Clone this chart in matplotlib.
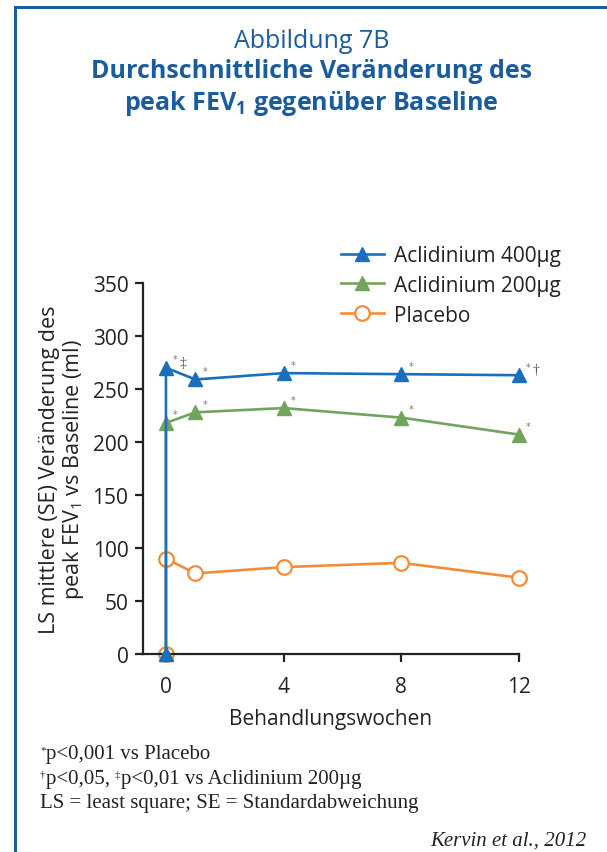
import matplotlib
matplotlib.use("Agg")
import matplotlib.pyplot as plt
from matplotlib.patches import Rectangle

plt.rcParams['font.family'] = ['Open Sans', 'DejaVu Sans']
plt.rcParams['mathtext.fontset'] = 'custom'
plt.rcParams['mathtext.rm'] = 'Open Sans'
plt.rcParams['mathtext.bf'] = 'Open Sans:bold'

weeks = [0, 0, 1, 4, 8, 12]
acl400 = [0, 270, 259, 265, 264, 263]
acl200 = [0, 218, 228, 232, 223, 207]
placebo = [0, 90, 76, 82, 86, 72]
series_names = ["Aclidinium 400µg", "Aclidinium 200µg", "Placebo"]
ann400 = ["", "*‡", "*", "*", "*", "*†"]
ann200 = ["", "*", "*", "*", "*", "*"]
xticks = [0, 4, 8, 12]
yticks = [0, 50, 100, 150, 200, 250, 300, 350]

c400 = '#1a6fba'
c200 = '#72a35f'
cpl = '#f28c38'
title_c = '#1a5c9c'
txt_c = '#222222'

fig = plt.figure(figsize=(6.07, 8.53), dpi=100)
fig.patches.append(Rectangle((15/607, -0.1), 1.2, 1 - 8/853 + 0.1, transform=fig.transFigure,
                             fill=False, edgecolor=title_c, linewidth=2.2, zorder=0))

ax = fig.add_axes([143/607, 1 - 655/853, (519 - 143)/607, (655 - 284)/853])

ax.plot(weeks, placebo, color=cpl, lw=1.9, marker='o', ms=10.5, mfc='white', mec=cpl, mew=1.6,
        label=series_names[2], zorder=2, clip_on=False)
ax.plot(weeks, acl200, color=c200, lw=1.9, marker='^', ms=10, mfc=c200, mec=c200,
        label=series_names[1], zorder=3, clip_on=False)
ax.plot(weeks, acl400, color=c400, lw=1.9, marker='^', ms=10, mfc=c400, mec=c400,
        label=series_names[0], zorder=4, clip_on=False)

for vals, anns in ((acl400, ann400), (acl200, ann200)):
    for x, y, t in zip(weeks, vals, anns):
        if t:
            ax.annotate(t[0], (x, y), xytext=(5, 4), textcoords='offset points', fontsize=7,
                        color='#777777', family=['DejaVu Sans'])
            if len(t) > 1:
                ax.annotate(t[1:], (x, y), xytext=(9.5, 1.5), textcoords='offset points', fontsize=10,
                            color='#555555', family=['Liberation Serif', 'DejaVu Serif'])

ax.set_xlim(-0.78, 12)
ax.set_ylim(0, 350)
ax.set_xticks(xticks)
ax.set_yticks(yticks)
ax.spines['top'].set_visible(False)
ax.spines['right'].set_visible(False)
for s in ['left', 'bottom']:
    ax.spines[s].set_linewidth(1.6)
    ax.spines[s].set_color(txt_c)
ax.tick_params(direction='out', length=6, width=1.6, colors=txt_c, labelsize=15)
ax.tick_params(axis='y', pad=4.5)
ax.tick_params(axis='x', pad=10)
ax.set_xlabel("Behandlungswochen", fontsize=15, color=txt_c, labelpad=8)
ax.set_ylabel("LS mittlere (SE) Veränderung des\npeak FEV$_1$ vs Baseline (ml)", fontsize=15.5,
              color=txt_c, labelpad=5, linespacing=1.05)

h, l = ax.get_legend_handles_labels()
leg = ax.legend(h[::-1], l[::-1], loc='upper left', bbox_to_anchor=((341 - 143)/376, 1 + (284 - 246)/371),
                frameon=False, fontsize=15, handlelength=2.05, labelspacing=0.42, handletextpad=0.5,
                borderaxespad=0, borderpad=0)
for t in leg.get_texts():
    t.set_color(txt_c)

fig.text(0.5 + 8/607, 1 - 41/853, "Abbildung 7B", ha='center', va='center', fontsize=18, color=title_c)
fig.text(0.5 + 8/607, 1 - 72/853, "Durchschnittliche Veränderung des", ha='center', va='center',
         fontsize=18, color=title_c, fontweight='bold')
fig.text(0.5 + 8/607, 1 - 103/853, r"peak FEV$_\mathbf{1}$ gegenüber Baseline", ha='center', va='center',
         fontsize=18, color=title_c, fontweight='bold')

serif = ['Liberation Serif', 'DejaVu Serif']
fs = 15


def footline(x, y, parts):
    prev = None
    for text, sup in parts:
        size = 8 if sup else fs
        dy = 6 if sup else 0
        if prev is None:
            prev = fig.text(x, y + dy / 853, text, fontsize=size, family=serif, va='baseline', color=txt_c,
                            transform=fig.transFigure)
        else:
            an = matplotlib.text.Annotation(text, xy=(1, y), xycoords=(prev, 'figure fraction'),
                                            xytext=(0, dy), textcoords='offset pixels',
                                            fontsize=size, family=serif, va='baseline', color=txt_c)
            fig.add_artist(an)
            prev = an


footline(40/607, 1 - 759/853, [("*", True), ("p<0,001 vs Placebo", False)])
footline(40/607, 1 - 784/853, [("†", True), ("p<0,05, ", False), ("‡", True), ("p<0,01 vs Aclidinium 200µg", False)])
footline(40/607, 1 - 808/853, [("LS = least square; SE = Standardabweichung", False)])
fig.text(587/607, 1 - 846/853, "Kervin et al., 2012", fontsize=fs, family=serif, style='italic',
         ha='right', va='baseline', color=txt_c)

fig.savefig("out.png", dpi=100)
